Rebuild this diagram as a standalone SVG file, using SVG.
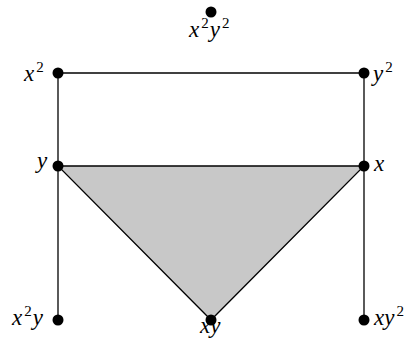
<svg xmlns="http://www.w3.org/2000/svg" width="409" height="345" viewBox="0 0 409 345">
<style>
.l{stroke:#000;stroke-width:1.3;fill:none}
.t{font-family:'Liberation Serif','Times New Roman',serif;font-style:italic;font-size:23px;fill:#000}
.s{font-size:15px;font-style:normal}
.d{fill:#000}
</style>
<rect width="409" height="345" fill="#fff"/>
<g id="face">
<polygon points="58,166 364,166 211,320" fill="#c8c8c8" stroke="#000" stroke-width="1.3"/>
</g>
<g id="edges">
<line class="l" x1="58" y1="73" x2="364" y2="73"/>
<line class="l" x1="58" y1="73" x2="58" y2="320"/>
<line class="l" x1="364" y1="73" x2="364" y2="320"/>
</g>
<g id="n-x2y2"><circle class="d" cx="211" cy="12" r="5.5"/><text class="t" x="189" y="37">x<tspan class="s" dx="2" dy="-9">2</tspan><tspan dx="1" dy="9">y</tspan><tspan class="s" dx="2" dy="-9">2</tspan></text></g>
<g id="n-x2"><circle class="d" cx="58" cy="73" r="5.5"/><text class="t" x="24" y="81">x<tspan class="s" dx="2" dy="-9">2</tspan></text></g>
<g id="n-y2"><circle class="d" cx="364" cy="73" r="5.5"/><text class="t" x="373" y="81">y<tspan class="s" dx="2" dy="-9">2</tspan></text></g>
<g id="n-y"><circle class="d" cx="58" cy="166" r="5.5"/><text class="t" x="37" y="168">y</text></g>
<g id="n-x"><circle class="d" cx="364" cy="166" r="5.5"/><text class="t" x="374" y="171">x</text></g>
<g id="n-x2y"><circle class="d" cx="58" cy="320" r="5.5"/><text class="t" x="12" y="325">x<tspan class="s" dx="2" dy="-9">2</tspan><tspan dx="1" dy="9">y</tspan></text></g>
<g id="n-xy"><circle class="d" cx="211" cy="320" r="5.5"/><text class="t" x="200" y="333">xy</text></g>
<g id="n-xy2"><circle class="d" cx="364" cy="320" r="5.5"/><text class="t" x="374" y="325">xy<tspan class="s" dx="2" dy="-9">2</tspan></text></g>
</svg>
